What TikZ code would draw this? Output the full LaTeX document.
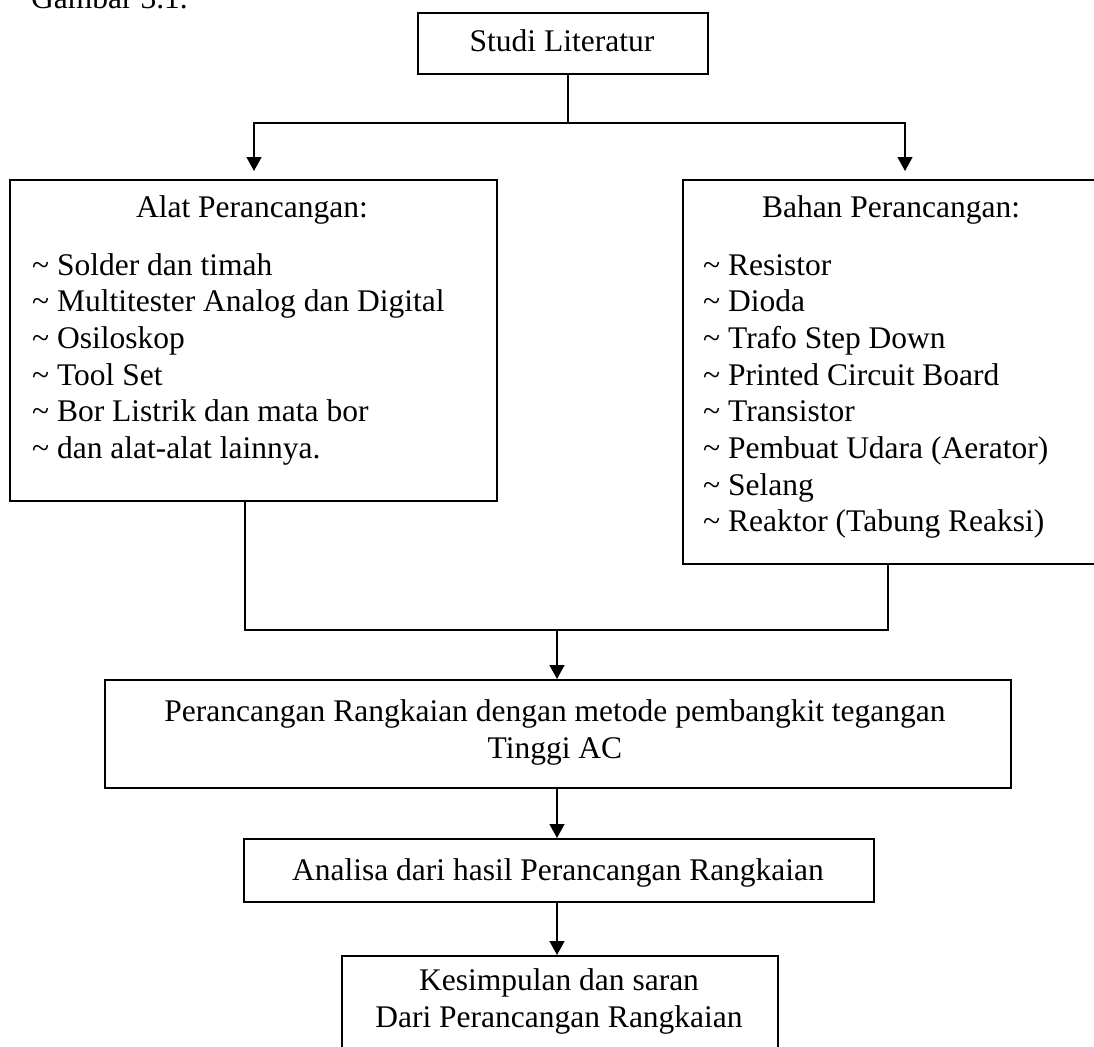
\documentclass[tikz,border=0pt]{standalone}
\usepackage{fontspec}
\setmainfont{Liberation Serif}
\usetikzlibrary{arrows.meta}
\begin{document}
\begin{tikzpicture}[x=1pt,y=-1pt,
  box/.style={draw, line width=1.6pt, inner sep=0pt, anchor=north west},
  txt/.style={inner sep=0pt, anchor=base, font=\fontsize{31.5}{36.7}\selectfont},
  ltxt/.style={txt, anchor=base west},
  conn/.style={line width=1.3pt},
  arr/.style={conn, -{Triangle[length=14pt,width=15pt]}}]
\useasboundingbox (0,0) rectangle (1094,1046);
\clip (0,0) rectangle (1094,1046);

% caption (cut at top)
\node[ltxt] (cap) at (31,9) {Gambar 3.1.};

% boxes
\node[box, minimum width=290pt, minimum height=61pt] (lit) at (417,12) {};
\node[box, minimum width=487pt, minimum height=321pt] (alat) at (9,179) {};
\node[box, minimum width=420pt, minimum height=384pt] (bahan) at (682,179) {};
\node[box, minimum width=906pt, minimum height=108pt] (mid) at (104,679) {};
\node[box, minimum width=630pt, minimum height=63pt] (ana) at (243,838) {};
\node[box, minimum width=436pt, minimum height=110pt] (kes) at (341,955) {};

% texts
\node[txt] (tlit) at (562,52) {Studi Literatur};
\node[txt] (talat) at (252,217) {Alat Perancangan:};
\foreach \t [count=\i from 0] in {Solder dan timah, Multitester Analog dan Digital, Osiloskop, Tool Set, Bor Listrik dan mata bor, dan alat-alat lainnya.}
  \node[ltxt] (a\i) at (32,275+36.7*\i) {\textasciitilde{} \t};
\node[txt] (tbahan) at (891,217) {Bahan Perancangan:};
\foreach \t [count=\i from 0] in {Resistor, Dioda, Trafo Step Down, Printed Circuit Board, Transistor, Pembuat Udara (Aerator), Selang, Reaktor (Tabung Reaksi)}
  \node[ltxt] (b\i) at (703,275+36.7*\i) {\textasciitilde{} \t};
\node[txt] (tmid1) at (555,721) {Perancangan Rangkaian dengan metode pembangkit tegangan};
\node[txt] (tmid2) at (555,758) {Tinggi AC};
\node[txt] (tana) at (558,880) {Analisa dari hasil Perancangan Rangkaian};
\node[txt] (tkes1) at (559,990) {Kesimpulan dan saran};
\node[txt] (tkes2) at (559,1027) {Dari Perancangan Rangkaian};

% connectors
\coordinate (j1) at (568,123);
\coordinate (ain) at (254,171);
\coordinate (bin) at (905,171);
\draw[conn] (lit.south -| j1) -- (j1);
\draw[arr] (j1) -| (ain);
\draw[arr] (j1) -| (bin);

\coordinate (aout) at (245,500);
\coordinate (bout) at (888,563);
\coordinate (j2) at (557,630);
\draw[conn] (aout) |- (j2) -| (bout);
\draw[arr] (j2) -- (mid.north -| j2);
\draw[arr] (mid.south -| j2) -- (ana.north -| j2);
\draw[arr] (ana.south -| j2) -- (kes.north -| j2);
\end{tikzpicture}
\end{document}
